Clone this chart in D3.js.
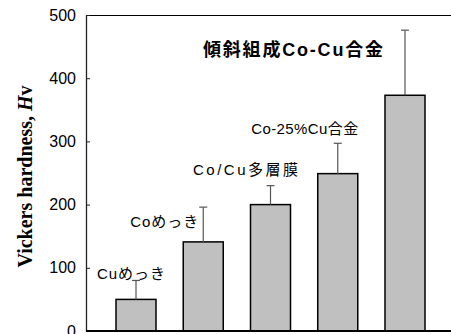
<!DOCTYPE html>
<html>
<head>
<meta charset="utf-8">
<script src="https://cdn.jsdelivr.net/npm/d3@7"></script>
<style>
  html, body { margin: 0; padding: 0; background: #fff; }
  svg { display: block; }
</style>
</head>
<body>
<svg id="chart" width="451" height="334"></svg>
<script>
// Vickers hardness of plated films
const categories = ["Cuめっき", "Coめっき", "Co/Cu多層膜", "Co-25%Cu合金", "傾斜組成Co-Cu合金"];
const hardness   = [50, 141, 200, 249, 373];
const errorUpper = [80, 196, 230, 297, 476];
const yTicks     = [0, 100, 200, 300, 400, 500];

const svg = d3.select("#chart");
const plotLeft = 86, plotTop = 15, plotBottom = 331, plotRightEnd = 455;

const y = d3.scaleLinear().domain([0, 500]).range([plotBottom, plotTop]);
const x = d3.scaleBand().domain(categories).range([plotLeft, plotRightEnd])
  .paddingInner(0.405).paddingOuter(0.446);

// plot frame: top border
svg.append("line").attr("x1", plotLeft).attr("x2", 451).attr("y1", plotTop + 0.5).attr("y2", plotTop + 0.5)
  .attr("stroke", "#000").attr("stroke-width", 1.2);

// bars
svg.append("g").selectAll("rect").data(categories).join("rect")
  .attr("x", d => x(d))
  .attr("y", (d, i) => y(hardness[i]))
  .attr("width", x.bandwidth())
  .attr("height", (d, i) => y(0) - y(hardness[i]))
  .attr("fill", "#c0c0c0")
  .attr("stroke", "#000")
  .attr("stroke-width", 1.5);

// error bars (upper only)
const eg = svg.append("g").attr("stroke", "#555").attr("stroke-width", 1.2);
categories.forEach((c, i) => {
  const cx = x(c) + x.bandwidth() / 2;
  eg.append("line").attr("x1", cx).attr("x2", cx)
    .attr("y1", y(hardness[i])).attr("y2", y(errorUpper[i]));
  eg.append("line").attr("x1", cx - 4).attr("x2", cx + 4)
    .attr("y1", y(errorUpper[i])).attr("y2", y(errorUpper[i]));
});

// y axis
const yAxis = d3.axisLeft(y).tickValues(yTicks).tickSizeInner(-4).tickSizeOuter(0).tickPadding(10);
const ga = svg.append("g").attr("transform", `translate(${plotLeft},0)`).call(yAxis);
ga.select(".domain").attr("stroke", "#222").attr("stroke-width", 1.3);
ga.selectAll(".tick line").attr("stroke", "#222");
ga.selectAll("text").attr("font-family", "Liberation Sans, Arial, sans-serif")
  .attr("font-size", 16).attr("fill", "#000");

// x axis baseline
svg.append("line").attr("x1", plotLeft).attr("x2", 451).attr("y1", plotBottom).attr("y2", plotBottom)
  .attr("stroke", "#000").attr("stroke-width", 1.8);

// y axis title
const yt = svg.append("text")
  .attr("transform", `translate(32,${(73 + 280) / 2}) rotate(-90)`)
  .attr("text-anchor", "middle")
  .attr("font-family", "Liberation Serif, Times New Roman, serif")
  .attr("font-weight", "bold").attr("font-size", 20);
yt.append("tspan").text("Vickers hardness, ");
yt.append("tspan").attr("font-style", "italic").text("H");
yt.append("tspan").text("v");

// category annotations placed near each bar's error cap
const labelLayout = [
  { dx: -5,  dy: -7,  w: 68,  size: 15 },
  { dx: -39, dy: 15,  w: 68,  size: 15 },
  { dx: -25, dy: -16, w: 105, size: 15 },
  { dx: -33, dy: -15, w: 107, size: 15 }
];
const lg = svg.append("g")
  .attr("font-family", "Liberation Sans, Arial, 'Noto Sans CJK JP', sans-serif")
  .attr("fill", "#000");
labelLayout.forEach((L, i) => {
  const cx = x(categories[i]) + x.bandwidth() / 2;
  lg.append("text")
    .attr("x", cx + L.dx).attr("y", y(errorUpper[i]) + L.dy)
    .attr("dy", "0.35em")
    .attr("text-anchor", "middle")
    .attr("font-size", L.size)
    .attr("textLength", L.w).attr("lengthAdjust", "spacing")
    .text(categories[i]);
});
// last category as chart heading
lg.append("text")
  .attr("x", 293).attr("y", 50).attr("dy", "0.35em")
  .attr("text-anchor", "middle")
  .attr("font-size", 18).attr("font-weight", "bold")
  .attr("textLength", 180).attr("lengthAdjust", "spacing")
  .text(categories[4]);
</script>
</body>
</html>
